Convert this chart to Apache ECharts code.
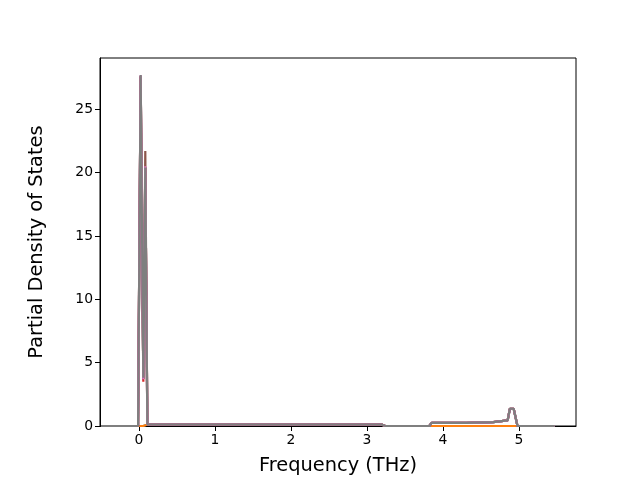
<!DOCTYPE html>
<html>
<head>
<meta charset="utf-8">
<script src="https://cdn.jsdelivr.net/npm/echarts@6/dist/echarts.min.js"></script>
<style>html,body{margin:0;padding:0;background:#fff;}#c{width:640px;height:480px;}</style>
</head>
<body>
<div id="c"></div>
<script>
// Frequency grid (THz)
var freq = [-0.5, -0.012, 0.022, 0.057, 0.083, 0.11, 3.19, 3.24, 3.82, 3.85, 4.31, 4.32, 4.66, 4.67, 4.85, 4.88, 4.93, 4.98, 5.47];
// Partial DOS series
var pdosC0 = [0, 0, 0, 0, 0, 0.12, 0.12, 0, 0, 0, 0, 0, 0, 0, 0, 0, 0, 0, 0];
var pdosC1 = [0, 0, 0, 0, 0, 0.12, 0.12, 0, 0, 0, 0, 0, 0, 0, 0, 0, 0, 0, 0];
var pdosC2 = [0, 0, 27.6, 3.7, 20.4, 0.12, 0.12, 0, 0, 0.24, 0.24, 0.31, 0.31, 0.44, 0.44, 1.36, 1.36, 0, 0];
var pdosC3 = [0, 0, 27.6, 3.5, 20.4, 0.12, 0.12, 0, 0, 0.24, 0.24, 0.31, 0.31, 0.44, 0.44, 1.36, 1.36, 0, 0];
var pdosC4 = [0, 0, 27.6, 3.7, 20.4, 0.12, 0.12, 0, 0, 0.24, 0.24, 0.31, 0.31, 0.44, 0.44, 1.36, 1.36, 0, 0];
var pdosC5 = [0, 0, 27.6, 3.7, 21.7, 0.12, 0.12, 0, 0, 0.24, 0.24, 0.31, 0.31, 0.44, 0.44, 1.36, 1.36, 0, 0];
var pdosC6 = [0, 0, 27.7, 3.7, 20.5, 0.12, 0.12, 0, 0, 0.24, 0.24, 0.31, 0.31, 0.44, 0.44, 1.36, 1.36, 0, 0];
var pdosC7 = [0, 0, 27.7, 3.8, 20.4, 0.12, 0.12, 0, 0, 0.24, 0.24, 0.31, 0.31, 0.44, 0.44, 1.36, 1.36, 0, 0];
var xTicks = [0, 1, 2, 3, 4, 5];
var yTicks = [0, 5, 10, 15, 20, 25];

var allSeries = [pdosC0, pdosC1, pdosC2, pdosC3, pdosC4, pdosC5, pdosC6, pdosC7];
var colors = ['#1f77b4', '#ff7f0e', '#2ca02c', '#d62728', '#9467bd', '#8c564b', '#e377c2', '#7f7f7f'];

function pairs(vals) {
  return freq.map(function (f, i) { return [f, vals[i]]; });
}

var chart = echarts.init(document.getElementById('c'), null, {renderer: 'canvas'});
var font = 'DejaVu Sans';
chart.setOption({
  animation: false,
  backgroundColor: '#fff',
  grid: {left: 100, right: 64, top: 58, bottom: 53, show: true, borderColor: '#000', borderWidth: 1, backgroundColor: 'transparent'},
  xAxis: {
    type: 'value', min: -0.513, max: 5.75,
    name: 'Frequency (THz)', nameLocation: 'middle', nameGap: 30,
    nameTextStyle: {fontFamily: font, fontSize: 19.4, color: '#000'},
    axisLine: {show: true, onZero: false, lineStyle: {color: '#000', width: 1}},
    axisTick: {show: true, length: 5, customValues: xTicks, lineStyle: {color: '#000'}},
    axisLabel: {customValues: xTicks, fontFamily: font, fontSize: 13.9, color: '#000', margin: 7},
    splitLine: {show: false}
  },
  yAxis: {
    type: 'value', min: 0, max: 29.05,
    name: 'Partial Density of States', nameLocation: 'middle', nameGap: 54,
    nameTextStyle: {fontFamily: font, fontSize: 19.4, color: '#000'},
    axisLine: {show: true, onZero: false, lineStyle: {color: '#000', width: 1}},
    axisTick: {show: true, length: 5, customValues: yTicks, lineStyle: {color: '#000'}},
    axisLabel: {customValues: yTicks, fontFamily: font, fontSize: 13.9, color: '#000', margin: 7},
    splitLine: {show: false}
  },
  series: allSeries.map(function (s, i) {
    return {
      type: 'line', data: pairs(s), symbol: 'none', clip: true,
      lineStyle: {color: colors[i], width: 2.2}, z: 2 + i
    };
  })
});
</script>
</body>
</html>
